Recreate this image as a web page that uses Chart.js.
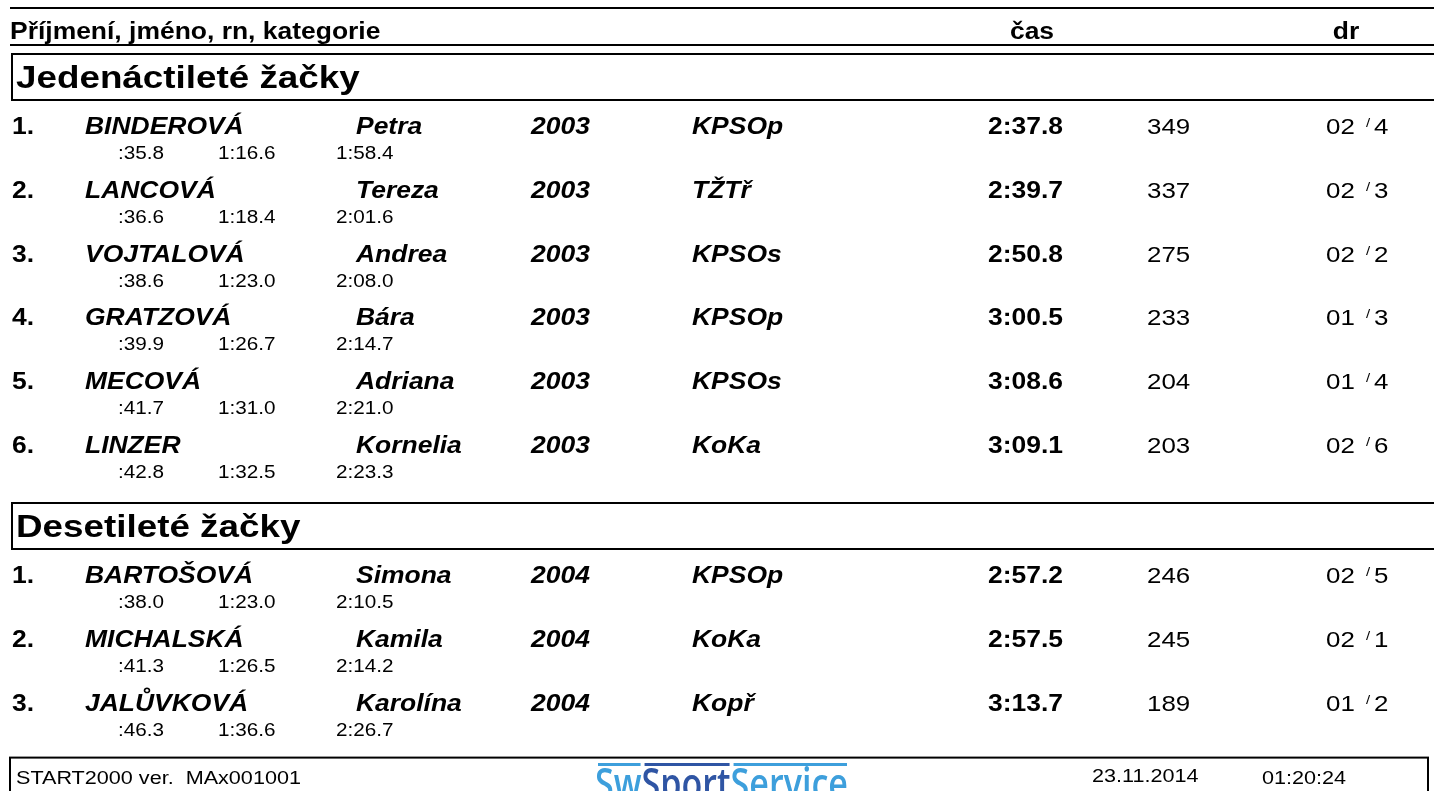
<!DOCTYPE html>
<html lang="cs">
<head>
<meta charset="utf-8">
<title>Výsledky</title>
<script src="https://cdn.jsdelivr.net/npm/chart.js@4/dist/chart.umd.min.js"></script>
<style>
  html, body { margin: 0; padding: 0; background: #fff; }
  #wrap { width: 1434px; height: 791px; }
</style>
</head>
<body>
<div id="wrap"><canvas id="results" width="1434" height="791"></canvas></div>
<script>
// === Data ===
const headTitle = "Příjmení, jméno, rn, kategorie";
const headTime = "čas";
const headLane = "dr";
const groupNames = ["Jedenáctileté žačky", "Desetileté žačky"];
const groupSizes = [6, 3];
const places = ["1.", "2.", "3.", "4.", "5.", "6.", "1.", "2.", "3."];
const surnames = ["BINDEROVÁ", "LANCOVÁ", "VOJTALOVÁ", "GRATZOVÁ", "MECOVÁ", "LINZER", "BARTOŠOVÁ", "MICHALSKÁ", "JALŮVKOVÁ"];
const firstNames = ["Petra", "Tereza", "Andrea", "Bára", "Adriana", "Kornelia", "Simona", "Kamila", "Karolína"];
const years = [2003, 2003, 2003, 2003, 2003, 2003, 2004, 2004, 2004];
const clubs = ["KPSOp", "TŽTř", "KPSOs", "KPSOp", "KPSOs", "KoKa", "KPSOp", "KoKa", "Kopř"];
const times = ["2:37.8", "2:39.7", "2:50.8", "3:00.5", "3:08.6", "3:09.1", "2:57.2", "2:57.5", "3:13.7"];
const points = [349, 337, 275, 233, 204, 203, 246, 245, 189];
const heats = ["02", "02", "02", "01", "01", "02", "02", "02", "01"];
const lanes = [4, 3, 2, 3, 4, 6, 5, 1, 2];
const split50 = [":35.8", ":36.6", ":38.6", ":39.9", ":41.7", ":42.8", ":38.0", ":41.3", ":46.3"];
const split100 = ["1:16.6", "1:18.4", "1:23.0", "1:26.7", "1:31.0", "1:32.5", "1:23.0", "1:26.5", "1:36.6"];
const split150 = ["1:58.4", "2:01.6", "2:08.0", "2:14.7", "2:21.0", "2:23.3", "2:10.5", "2:14.2", "2:26.7"];
const footerLeft = "START2000 ver.  MAx001001";
const footerDate = "23.11.2014";
const footerClock = "01:20:24";
const logoParts = ["Sw", "Sport", "Service"];

// === Layout (page units = pixels) ===
const W = 1434, H = 791;
const STRETCH = 1.15;          // the page is printed a bit wide
const FONT = "'Liberation Sans', Arial, sans-serif";
const firstBoxTop = 54, boxH = 46, firstRowOff = 34, rowPitch = 63.8, afterLastRow = 50, splitOff = 25;

const boxTops = [];
const rowY = [];
let cursor = firstBoxTop;
groupSizes.forEach(n => {
  boxTops.push(cursor);
  const start = cursor + boxH + firstRowOff;
  for (let i = 0; i < n; i++) rowY.push(start + i * rowPitch);
  cursor = rowY[rowY.length - 1] + afterLastRow;
});
const footerTop = rowY[rowY.length - 1] + 47;
const splitY = rowY.map(y => y + splitOff);

function column(x, ys, text, font, extra) {
  return Object.assign({
    data: ys.map(y => ({ x: x, y: y })),
    text: text,
    font: font,
    pointRadius: 0,
    showLine: false
  }, extra || {});
}

const headFont = `bold 23px ${FONT}`;
const rowFontBI = `italic bold 23px ${FONT}`;
const rowFontB = `bold 23px ${FONT}`;
const rowFont = `22.5px ${FONT}`;
const splitFont = `18px ${FONT}`;
const footFont = `18.8px ${FONT}`;

const datasets = [
  column(10, [39], [headTitle], headFont),
  column(1032, [39], [headTime], headFont, { align: "center" }),
  column(1346, [39], [headLane], headFont, { align: "center" }),
  column(16, boxTops.map(t => t + 34), groupNames, `bold 32px ${FONT}`),
  column(12, rowY, places, rowFontB),
  column(85, rowY, surnames, rowFontBI),
  column(356, rowY, firstNames, rowFontBI),
  column(531, rowY, years, rowFontBI),
  column(692, rowY, clubs, rowFontBI),
  column(988, rowY, times, rowFontB),
  column(1147, rowY, points, rowFont),
  column(1326, rowY, heats, rowFont),
  column(1366, rowY.map(y => y - 7), lanes.map(() => "/"), `13px ${FONT}`),
  column(1374, rowY, lanes, rowFont),
  column(118, splitY, split50, splitFont),
  column(218, splitY, split100, splitFont),
  column(336, splitY, split150, splitFont),
  column(16, [footerTop + 26], [footerLeft], footFont),
  column(1092, [footerTop + 24], [footerDate], footFont),
  column(1262, [footerTop + 26], [footerClock], footFont)
];

// === Rules and boxes ===
const framePlugin = {
  id: "frame",
  beforeDatasetsDraw(chart) {
    const ctx = chart.ctx;
    const xs = chart.scales.x, ys = chart.scales.y;
    const px = v => xs.getPixelForValue(v);
    const py = v => ys.getPixelForValue(v);
    ctx.save();
    ctx.strokeStyle = "#000";
    ctx.lineWidth = 2;
    [8, 45].forEach(y => {
      ctx.beginPath();
      ctx.moveTo(px(10), py(y));
      ctx.lineTo(px(W), py(y));
      ctx.stroke();
    });
    boxTops.forEach(t => {
      ctx.strokeRect(px(12), py(t), px(W + 10) - px(12), py(t + boxH) - py(t));
    });
    ctx.strokeRect(px(10), py(footerTop), px(1428) - px(10), py(H + 20) - py(footerTop));

    // logo
    const colors = ["#3d9fdc", "#2f55a4", "#3d9fdc"];
    ctx.font = `600 44px 'Open Sans', sans-serif`;
    const total = logoParts.reduce((s, p) => s + ctx.measureText(p).width, 0);
    const sx = 253 / total;
    let x = px(595);
    logoParts.forEach((p, i) => {
      const w = ctx.measureText(p).width * sx;
      ctx.fillStyle = colors[i];
      ctx.save();
      ctx.translate(x, py(H + 8));
      ctx.scale(sx, 1);
      ctx.fillText(p, 0, 0);
      ctx.restore();
      ctx.fillRect(x + 3, py(763), w - 4, 3);
      x += w;
    });
    ctx.restore();
  }
};

// === Text cells ===
const textPlugin = {
  id: "cellText",
  afterDatasetsDraw(chart) {
    const ctx = chart.ctx;
    chart.data.datasets.forEach((ds, i) => {
      const meta = chart.getDatasetMeta(i);
      ctx.save();
      ctx.font = ds.font;
      ctx.fillStyle = ds.color || "#000";
      ctx.textBaseline = "alphabetic";
      meta.data.forEach((pt, j) => {
        const s = String(ds.text[j]);
        let x = pt.x;
        if (ds.align === "center") x -= ctx.measureText(s).width * STRETCH / 2;
        ctx.save();
        ctx.translate(x, pt.y);
        ctx.scale(STRETCH, 1);
        ctx.fillText(s, 0, 0);
        ctx.restore();
      });
      ctx.restore();
    });
  }
};

new Chart(document.getElementById("results"), {
  type: "scatter",
  data: { datasets: datasets },
  options: {
    responsive: false,
    animation: false,
    devicePixelRatio: 1,
    layout: { padding: 0 },
    events: [],
    plugins: { legend: { display: false }, tooltip: { enabled: false } },
    scales: {
      x: { type: "linear", min: 0, max: W, display: false },
      y: { type: "linear", min: 0, max: H, reverse: true, display: false }
    }
  },
  plugins: [framePlugin, textPlugin]
});
</script>
</body>
</html>
